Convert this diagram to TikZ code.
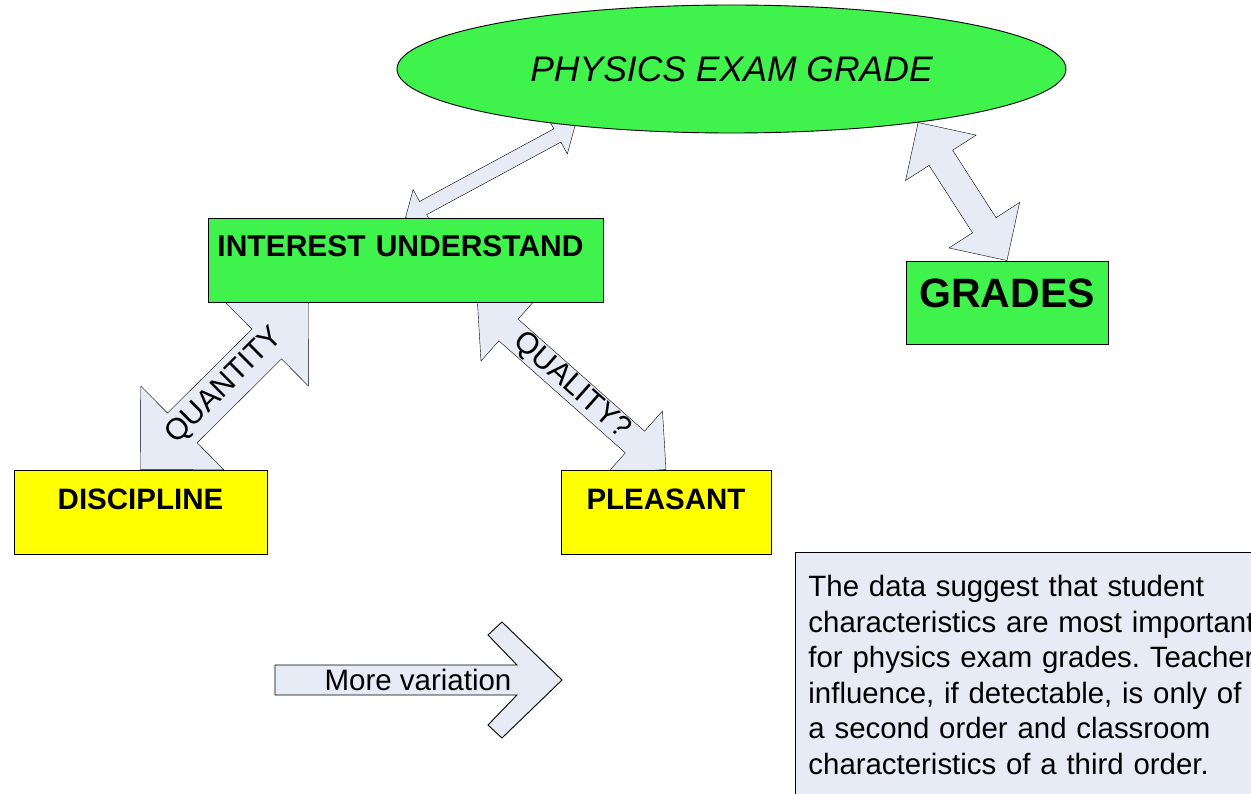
\documentclass[tikz,border=0pt]{standalone}
\usepackage{fontspec}
\setmainfont{Liberation Sans}
\usetikzlibrary{shapes.geometric,calc,backgrounds}

\definecolor{boxgreen}{RGB}{64,242,76}
\definecolor{boxyellow}{RGB}{255,255,0}
\definecolor{arrowblue}{RGB}{230,235,246}

% two-headed block arrow: from, to, head length, head half width, shaft half width
\newcommand{\twowayarrow}[5]{%
  \coordinate (ha) at ($(#1)!#3!(#2)$);
  \coordinate (hb) at ($(#2)!#3!(#1)$);
  \draw[blockarrow] (#1) -- ($(ha)!#4!90:(#2)$) -- ($(ha)!#5!90:(#2)$)
    -- ($(hb)!#5!-90:(#1)$) -- ($(hb)!#4!-90:(#1)$) -- (#2)
    -- ($(hb)!#4!90:(#1)$) -- ($(hb)!#5!90:(#1)$)
    -- ($(ha)!#5!-90:(#2)$) -- ($(ha)!#4!-90:(#2)$) -- cycle;
}

\begin{document}
\frenchspacing
\begin{tikzpicture}[x=1pt, y=-1pt, line width=0.9pt,
    greenbox/.style={draw, fill=boxgreen, inner sep=0pt,
      font=\fontsize{30}{34}\selectfont\bfseries},
    yellowbox/.style={draw, fill=boxyellow, inner sep=0pt, minimum height=84pt,
      text height=39pt, text depth=45pt, font=\fontsize{29.5}{34}\selectfont\bfseries},
    blockarrow/.style={draw, fill=arrowblue, line join=miter},
    arrowlabel/.style={font=\fontsize{30}{32}\selectfont, inner sep=0pt}]
    \useasboundingbox (0,0) rectangle (1251,794);

    % Exam grade
    \node[ellipse, draw, fill=boxgreen, minimum width=669pt, minimum height=128pt,
      inner sep=0pt, font=\fontsize{35.5}{40}\selectfont\itshape]
      (exam) at (731.5,69) {PHYSICS EXAM GRADE};

    % Boxes
    \node[greenbox, minimum width=395pt, minimum height=84pt, text height=39pt, text depth=45pt,
      text width=395pt, align=center]
      (interest) at (405.5,260) {\hspace*{-10pt}INTEREST UNDERSTAND};
    \node[greenbox, minimum width=202pt, minimum height=83pt, text height=47pt, text depth=36pt,
      font=\fontsize{41}{44}\selectfont\bfseries]
      (grades) at (1007,302.5) {GRADES};
    \node[yellowbox, minimum width=253pt] (discipline) at (140.5,512) {DISCIPLINE};
    \node[yellowbox, minimum width=210pt] (pleasant) at (666,512) {PLEASANT};

    % Arrow ends on the interest box
    \coordinate (quantityend) at ($(interest.south west)+(101,0)$);
    \coordinate (qualityend) at ($(interest.south east)+(-126,0)$);

    % Double arrows behind the shapes
    \begin{scope}[on background layer]
        \twowayarrow{interest.north}{exam.200}{20pt}{21pt}{7.5pt}
        \twowayarrow{exam.-16}{grades.north}{42pt}{42pt}{14pt}
        \twowayarrow{discipline.north}{quantityend}{59pt}{59pt}{21pt}
        \twowayarrow{qualityend}{pleasant.north}{41.5pt}{41.5pt}{14.5pt}
    \end{scope}
    \path (discipline.north) -- (quantityend) node[midway, sloped, arrowlabel] (quantity) {QUANTITY};
    \path (qualityend) -- (pleasant.north) node[midway, sloped, arrowlabel] (quality) {QUALITY?};

    % More variation arrow
    \draw[blockarrow] (275,665) -- (517,665) -- (488,635) -- (502,622) -- (562,680)
      -- (502,738) -- (488,725) -- (517,695) -- (275,695) -- cycle;
    \node[font=\fontsize{29.5}{32}\selectfont, inner sep=0pt] (variation) at (418,680) {More variation};

    % Note, cut by the page edge
    \begin{scope}
        \clip (0,0) rectangle (1251,794);
        \node[draw, fill=arrowblue, anchor=north west, text width=600pt, align=left,
          inner xsep=13pt, inner ysep=23pt, font=\fontsize{29.4}{35.5}\selectfont]
          (note) at (795,552) {The data suggest that student\\
          characteristics are most important\\
          for physics exam grades. Teacher\\
          influence, if detectable, is only of\\
          a second order and classroom\\
          characteristics of a third order.};
    \end{scope}
\end{tikzpicture}
\end{document}
